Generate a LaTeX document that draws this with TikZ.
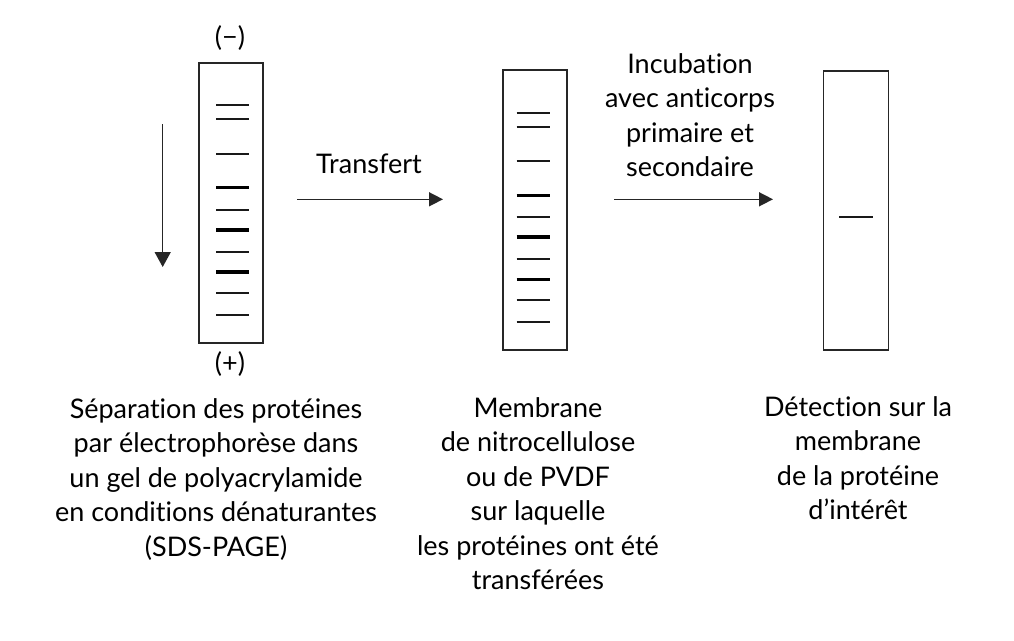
\documentclass[tikz,border=0pt]{standalone}
\usepackage{fontspec}
\setmainfont{Lato}[RawFeature={-liga;-dlig}]
\usetikzlibrary{arrows.meta}
\begin{document}
\begin{tikzpicture}[x=1pt,y=-1pt,
  strip/.style={draw=black!85, line width=1.8pt, inner sep=0pt, minimum width=64pt, minimum height=280pt},
  thinband/.style={line width=1.8pt, draw=black!90},
  thickband/.style={line width=3.4pt, draw=black},
  flow/.style={line width=1.5pt, draw=black!85, -{Triangle[length=14pt,width=14pt]}},
  lbl/.style={inner sep=0pt, anchor=base, font=\fontsize{27}{34.5}\selectfont},
]
\useasboundingbox[fill=white] (0,0) rectangle (1014,640);

% strips
\node[strip] (gel1) at (231.3,203) {};
\node[strip] (gel2) at (535,210.3) {};
\node[strip, minimum width=65pt, minimum height=279.3pt] (gel3) at (856,210.3) {};

% bands gel 1
\foreach \y/\s in {105.3/thinband,119.3/thinband,154.3/thinband,187.7/thickband,210.3/thinband,230/thickband,252/thinband,272/thickband,293.3/thinband,315/thinband}
  \draw[\s] (216,\y) -- (249,\y);
% bands gel 2
\foreach \y/\s in {112.7/thinband,126.7/thinband,161.3/thinband,195.3/thickband,217.3/thinband,237/thickband,259.3/thinband,279.3/thickband,300/thinband,322.3/thinband}
  \draw[\s] (516.7,\y) -- (550,\y);
% band gel 3
\draw[thinband] (839,216.7) -- (872.7,216.7);

% electrodes
\node[lbl] (minus) at (230,46) {(−)};
\node[lbl] (plus) at (230,372) {(+)};

% migration arrow
\coordinate (mig1) at (162.7,124);
\coordinate (mig2) at (162.7,267);
\draw[line width=1.5pt, draw=black!85, -{Triangle[length=15pt,width=16pt]}] (mig1) -- (mig2);

% transfer arrow
\coordinate (t1s) at (297,199.3);
\coordinate (t1e) at (443,199.3);
\draw[flow] (t1s) -- (t1e);
\node[lbl] (transfert) at (369,173) {Transfert};

% incubation arrow
\coordinate (t2s) at (614,199.3);
\coordinate (t2e) at (773,199.3);
\draw[flow] (t2s) -- (t2e);
\node[lbl] (incub) at (690,73) {\begin{tabular}[t]{@{}c@{}}Incubation\\avec anticorps\\primaire et\\secondaire\end{tabular}};

% captions
\node[lbl] (cap1) at (216,418) {\begin{tabular}[t]{@{}c@{}}Séparation des protéines\\par électrophorèse dans\\un gel de polyacrylamide\\en conditions dénaturantes\\(SDS-PAGE)\end{tabular}};
\node[lbl] (cap2) at (538,417) {\begin{tabular}[t]{@{}c@{}}Membrane\\de nitrocellulose\\ou de PVDF\\sur laquelle\\les protéines ont été\\transférées\end{tabular}};
\node[lbl] (cap3) at (858,416) {\begin{tabular}[t]{@{}c@{}}Détection sur la\\membrane\\de la protéine\\d’intérêt\end{tabular}};
\end{tikzpicture}
\end{document}
